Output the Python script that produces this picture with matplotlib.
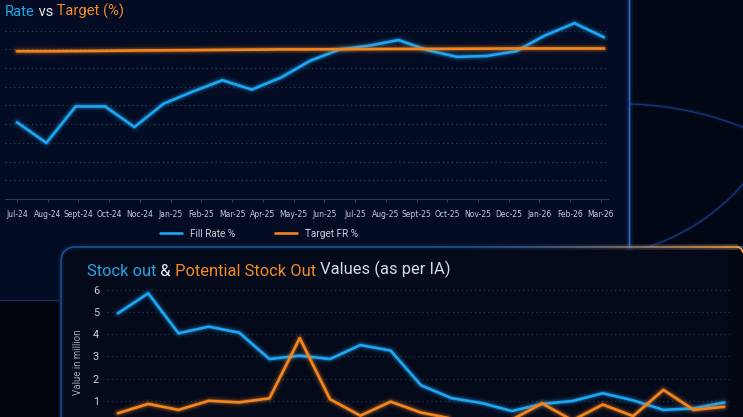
import numpy as np
import matplotlib
matplotlib.use('Agg')
import matplotlib.pyplot as plt
from matplotlib import font_manager
from matplotlib.font_manager import FontProperties
from matplotlib.patches import FancyBboxPatch, Rectangle
from matplotlib.collections import LineCollection
from matplotlib.colors import to_rgb

# ---------------- data ----------------
months = ['Jul-24', 'Aug-24', 'Sept-24', 'Oct-24', 'Noc-24', 'Jan-25', 'Feb-25',
          'Mar-25', 'Apr-25', 'May-25', 'Jun-25', 'Jul-25', 'Aug-25', 'Sept-25',
          'Oct-25', 'Nov-25', 'Dec-25', 'Jan-26', 'Feb-26', 'Mar-26']
fill_rate = [86.2, 84.0, 87.9, 87.9, 85.7, 88.2, 89.5, 90.7, 89.7, 91.0, 92.8,
             94.0, 94.4, 95.0, 93.9, 93.2, 93.3, 93.8, 95.5, 96.8, 95.3]
target_fr = [93.8, 93.8, 93.82, 93.85, 93.88, 93.9, 93.92, 93.95, 93.97, 94.0, 94.0,
             94.02, 94.03, 94.05, 94.05, 94.07, 94.08, 94.1, 94.1, 94.1, 94.1]
stock_out = [4.94, 5.84, 4.04, 4.34, 4.07, 2.88, 3.03, 2.88, 3.51, 3.26, 1.70,
             1.12, 0.90, 0.54, 0.86, 0.99, 1.34, 1.02, 0.59, 0.66, 0.92]
potential_so = [0.44, 0.86, 0.59, 1.00, 0.93, 1.11, 3.82, 1.07, 0.33, 0.96, 0.47,
                0.20, 0.12, 0.15, 0.88, 0.12, 0.83, 0.31, 1.49, 0.59, 0.73]
top_grid = [80, 82, 84, 86, 88, 90, 92, 94, 96]
bottom_ticks = [1, 2, 3, 4, 5, 6]

# ---------------- fonts ----------------
names = {f.name for f in font_manager.fontManager.ttflist}
title_font = 'Roboto' if 'Roboto' in names else 'DejaVu Sans'
cond = [f for f in font_manager.fontManager.ttflist
        if ('Condensed' in f.name or 'Narrow' in f.name or
            f.stretch in ('condensed', 'semi-condensed', 'extra-condensed'))
        and f.style == 'normal' and f.weight in (400, 'normal', 'regular', 500, 'medium')]
if cond:
    tick_prop = FontProperties(fname=cond[0].fname, size=6.1)
else:
    tick_prop = FontProperties(family=title_font, size=5.6)

BLUE = '#1ea6f4'
ORANGE = '#f5861f'
W, H = 743, 417

fig = plt.figure(figsize=(W / 100, H / 100), dpi=100)
fig.patch.set_facecolor('#01040d')


def fx(x):
    return x / W


def fy(y):
    return 1 - y / H


# ---------------- background / cards ----------------
bg = fig.add_axes([0, 0, 1, 1])
bg.set_xlim(0, W)
bg.set_ylim(H, 0)
bg.axis('off')
bg.set_zorder(0)

bg.add_patch(Rectangle((629, -5), 130, 260, fc='#020716', ec='none'))
bg.add_patch(Rectangle((-5, -5), 634, 305, fc='#030c22', ec='none'))
bg.plot([0, 61], [300, 300], color='#12305c', lw=1.0)
for lw, a in [(5, 0.10), (2.5, 0.25)]:
    bg.plot([629, 629], [0, 247], color='#2f72d8', lw=lw, alpha=a)
bg.plot([629, 629], [0, 247], color='#2f72d8', lw=0.9, alpha=0.9)

# decorative arcs
t = np.linspace(0, 1, 60)
ax1 = (1 - t) ** 2 * 631 + 2 * (1 - t) * t * 690 + t ** 2 * 745
ay1 = (1 - t) ** 2 * 104 + 2 * (1 - t) * t * 106 + t ** 2 * 128
bg.plot(ax1, ay1, color='#1d50b0', lw=3, alpha=0.12)
bg.plot(ax1, ay1, color='#2256b8', lw=1.0, alpha=0.55)
ax2 = (1 - t) ** 2 * 648 + 2 * (1 - t) * t * 705 + t ** 2 * 745
ay2 = (1 - t) ** 2 * 247 + 2 * (1 - t) * t * 228 + t ** 2 * 182
bg.plot(ax2, ay2, color='#1d50b0', lw=3, alpha=0.12)
bg.plot(ax2, ay2, color='#2256b8', lw=1.0, alpha=0.55)

card = FancyBboxPatch((61, 247), 720, 220, boxstyle='round,pad=0,rounding_size=15',
                      fc='#040a1a', ec='#1d4c8a', lw=1.2)
bg.add_patch(card)
glow = FancyBboxPatch((61, 247), 720, 220, boxstyle='round,pad=0,rounding_size=15',
                      fc='none', ec='#1d5fb0', lw=4, alpha=0.15)
bg.add_patch(glow)
bg.add_patch(Rectangle((728, 250), 20, 170, fc='#02050e', ec='none', alpha=0.6))

# orange glow on the top-right edge
xs = np.linspace(420, 738, 160)
segs = [[(xs[i], 247), (xs[i + 1], 247)] for i in range(len(xs) - 1)]
al = np.linspace(0, 1, len(segs)) ** 2
oc = to_rgb('#f59a3a')
bg.add_collection(LineCollection(segs, colors=[(*oc, a * 0.3) for a in al], lw=4))
bg.add_collection(LineCollection(segs, colors=[(*oc, a) for a in al], lw=1.1))
bg.plot([738, 741, 743], [247, 248.5, 252], color='#f7a040', lw=1.4)


def glow_plot(ax, x, y, color, label):
    for lw, a in [(7.5, 0.06), (5, 0.12), (3.2, 0.22)]:
        ax.plot(x, y, color=color, lw=lw, alpha=a, solid_joinstyle='round',
                solid_capstyle='round')
    return ax.plot(x, y, color=color, lw=1.9, label=label, solid_joinstyle='round',
                   solid_capstyle='round')[0]


# ---------------- top chart ----------------
axT = fig.add_axes([fx(5), fy(199), (608 - 5) / W, (199 - 17.6) / H])
axT.set_zorder(2)
axT.patch.set_alpha(0)
axT.set_xlim(-0.41, 20.14)
axT.set_ylim(78, 97.4)
xi = np.arange(len(fill_rate))
l1 = glow_plot(axT, xi, fill_rate, BLUE, 'Fill Rate %')
l2 = glow_plot(axT, xi, target_fr, ORANGE, 'Target FR %')
axT.set_yticks(top_grid)
axT.yaxis.grid(True, color='#2d3a58', lw=0.9, ls=(0, (1, 2.5)))
axT.set_axisbelow(True)
axT.tick_params(axis='y', length=0, labelleft=False)
axT.set_xticks(np.linspace(0, 19.9, len(months)))
axT.set_xticklabels(months, fontproperties=tick_prop, color='#c3c9d4')
axT.tick_params(axis='x', length=2.5, width=0.6, color='#3a4660', pad=5.5)
for s in ['top', 'left', 'right']:
    axT.spines[s].set_visible(False)
axT.spines['bottom'].set_color('#2f3a55')
axT.spines['bottom'].set_linewidth(0.8)

leg = axT.legend(handles=[l1, l2], loc='center', bbox_to_anchor=(fx(259), fy(234)),
                 bbox_transform=fig.transFigure, ncol=2, frameon=False,
                 prop={'family': title_font, 'size': 7.2}, handlelength=2.2,
                 handletextpad=0.8, columnspacing=4.0, borderpad=0, labelcolor='#c8cdd6')


def multi_text(x, y, parts, size):
    prev = bg.text(x, y, parts[0][0], color=parts[0][1], fontsize=size,
                   fontfamily=title_font, va='bottom', ha='left', zorder=5)
    for s, c in parts[1:]:
        prev = bg.annotate(s, xy=(1, 0), xycoords=prev, va='bottom', ha='left',
                           color=c, fontsize=size, fontfamily=title_font, zorder=5)


multi_text(5, 18.5, [('Rate', '#22a7e6'), (' vs', '#e6e9ef'), (' Target (%)', '#f28a25')], 10.6)
multi_text(87, 278.5, [('Stock out', '#22a7e6'), (' &', '#e6e9ef'),
                       (' Potential Stock Out', '#f28a25'), (' Values (as per IA)', '#d6dae2')], 11.9)

# ---------------- bottom chart ----------------
axB = fig.add_axes([fx(107), 0, 624 / W, (417 - 283.1) / H])
axB.set_zorder(2)
axB.patch.set_alpha(0)
axB.set_xlim(-0.36, 20.23)
axB.set_ylim(0.27, 6.3)
xb = np.arange(len(stock_out))
glow_plot(axB, xb, stock_out, BLUE, 'Stock out')
glow_plot(axB, xb, potential_so, ORANGE, 'Potential Stock Out')
axB.set_yticks(bottom_ticks)
axB.set_yticklabels([str(v) for v in bottom_ticks], fontfamily=title_font,
                    fontsize=7.8, color='#c9ced8')
axB.tick_params(axis='y', length=0, pad=5.8)
axB.set_xticks([])
axB.yaxis.grid(True, color='#26324c', lw=0.9, ls=(0, (1, 2.5)))
axB.set_axisbelow(True)
for s in axB.spines.values():
    s.set_visible(False)
axB.set_ylabel('Value in million', fontfamily=title_font, fontsize=7, color='#9aa3b5')
axB.yaxis.set_label_coords((83 - 107) / 624, (417 - 362) / 133.9)

fig.savefig('out.png', dpi=100, facecolor=fig.get_facecolor())
